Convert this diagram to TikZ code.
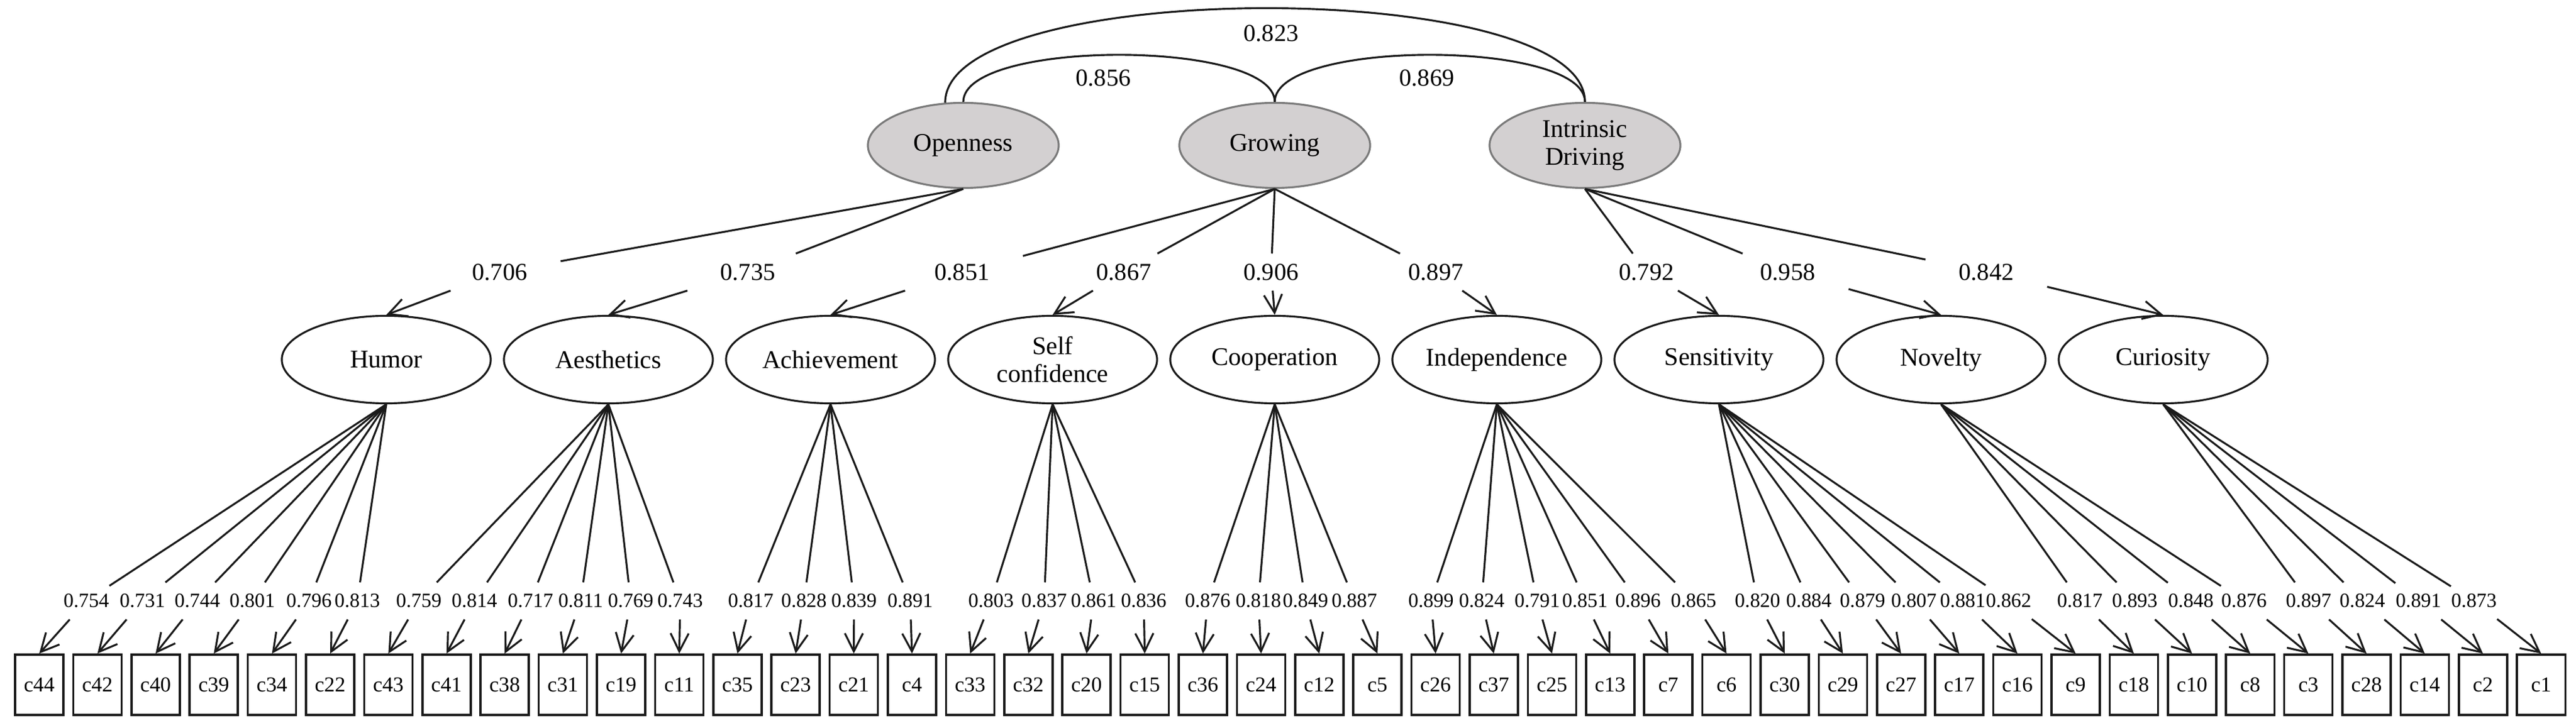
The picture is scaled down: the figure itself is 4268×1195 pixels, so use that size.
\documentclass[tikz,border=0pt]{standalone}
\usepackage{fontspec}
\setmainfont{Liberation Serif}
\usetikzlibrary{arrows.meta,positioning,shapes.geometric,calc}
\definecolor{latfill}{HTML}{D3D0D1}
\definecolor{latedge}{HTML}{7A7A7A}
\definecolor{ink}{HTML}{1A1A1A}

\tikzset{
  second/.style={ellipse, draw=latedge, fill=latfill, line width=0.9pt,
    minimum width=3.16cm, minimum height=1.41cm, inner sep=0pt,
    font=\fontsize{12}{13}\selectfont, align=center},
  first/.style={ellipse, draw=ink, line width=0.9pt,
    minimum width=3.46cm, minimum height=1.45cm, inner sep=0pt,
    font=\fontsize{12}{13}\selectfont, align=center},
  item/.style={rectangle, draw=ink, line width=1pt,
    minimum width=0.8cm, minimum height=1cm, inner sep=0pt,
    font=\fontsize{10}{11}\selectfont},
  hilab/.style={minimum width=2cm, minimum height=0.6cm, inner sep=0pt,
    font=\fontsize{11.5}{12}\selectfont},
  lolab/.style={minimum width=0.7cm, minimum height=0.6cm, inner sep=0pt,
    font=\fontsize{9.5}{10}\selectfont},
  path/.style={line width=0.9pt, draw=ink},
  load/.style={path, -{Straight Barb[length=0.3cm,width=0.3cm,line width=0.9pt]}}
}

\begin{document}
\begin{tikzpicture}[x=0.01cm, y=-0.01cm]
  \useasboundingbox (0,0) rectangle (4268,1195);

  % Second-order factors
  \node[second] (open) at (1596,241) {Openness};
  \node[second] (grow) at (2112,241) {Growing};
  \node[second] (drive) at (2626,241) {Intrinsic\\Driving};

  % Correlations between second-order factors
  \draw[path] (open.113) .. controls ++(0,-208) and ++(0,-208) .. (drive.north);
  \draw[path] (open.north) .. controls ++(0,-104) and ++(0,-104) .. (grow.north);
  \draw[path] (grow.north) .. controls ++(0,-104) and ++(0,-104) .. (drive.north);
  \node[font=\fontsize{11.5}{12}\selectfont] (r13) at (2106,55) {0.823};
  \node[font=\fontsize{11.5}{12}\selectfont] (r12) at (1828,129) {0.856};
  \node[font=\fontsize{11.5}{12}\selectfont] (r23) at (2364,129) {0.869};

  % First-order factors with second-order loadings
  \foreach \f/\txt/\x/\src/\val/\lx in {
      humor/Humor/640/open/0.706/828,
      aest/Aesthetics/1008/open/0.735/1239,
      achv/Achievement/1376/grow/0.851/1594,
      self/Self\\confidence/1744/grow/0.867/1862,
      coop/Cooperation/2112/grow/0.906/2106,
      indep/Independence/2480/grow/0.897/2379,
      sens/Sensitivity/2848/drive/0.792/2728,
      novel/Novelty/3216/drive/0.958/2962,
      curio/Curiosity/3584/drive/0.842/3291} {
    \node[first] (\f) at (\x,596) {\txt};
    \node[hilab] (l\f) at (\lx,451) {\val};
    \draw[path] (\src.south) -- (l\f);
    \draw[load] (l\f) -- (\f.north);
  }

  % Observed items
  \foreach \c/\f/\val/\lx [count=\i from 0] in {
      c44/humor/0.754/143, c42/humor/0.731/236, c40/humor/0.744/327,
      c39/humor/0.801/418, c34/humor/0.796/512, c22/humor/0.813/592,
      c43/aest/0.759/694, c41/aest/0.814/786, c38/aest/0.717/879,
      c31/aest/0.811/962, c19/aest/0.769/1045, c11/aest/0.743/1127,
      c35/achv/0.817/1244, c23/achv/0.828/1332, c21/achv/0.839/1415,
      c4/achv/0.891/1508,
      c33/self/0.803/1642, c32/self/0.837/1730, c20/self/0.861/1812,
      c15/self/0.836/1895,
      c36/coop/0.876/2001, c24/coop/0.818/2085, c12/coop/0.849/2163,
      c5/coop/0.887/2244,
      c26/indep/0.899/2371, c37/indep/0.824/2455, c25/indep/0.791/2547,
      c13/indep/0.851/2626, c7/indep/0.896/2714, c6/indep/0.865/2806,
      c30/sens/0.820/2912, c29/sens/0.884/2997, c27/sens/0.879/3086,
      c17/sens/0.807/3171, c16/sens/0.881/3252, c9/sens/0.862/3328,
      c18/novel/0.817/3446, c10/novel/0.893/3537, c8/novel/0.848/3630,
      c3/novel/0.876/3718,
      c28/curio/0.897/3825, c14/curio/0.824/3914, c2/curio/0.891/4007,
      c1/curio/0.873/4099} {
    \node[item] (\c) at ({65+96.4*\i},1135) {\c};
    \node[lolab] (l\c) at (\lx,996) {\val};
    \draw[path] (\f.south) -- (l\c);
    \draw[load] (l\c) -- (\c.north);
  }
\end{tikzpicture}
\end{document}
